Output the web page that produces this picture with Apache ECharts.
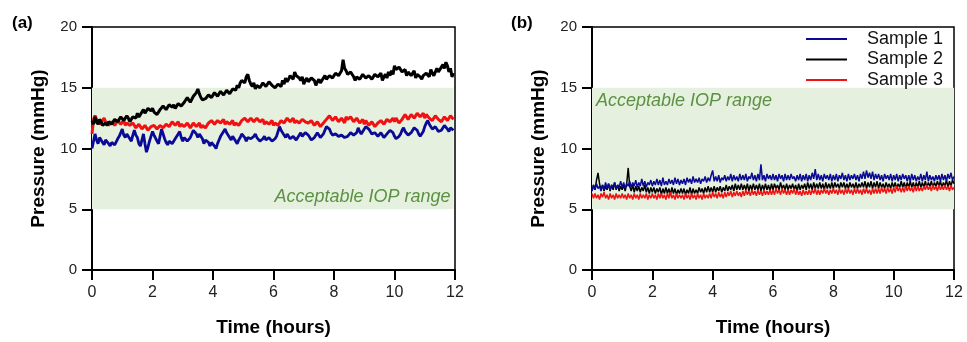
<!DOCTYPE html>
<html>
<head>
<meta charset="utf-8">
<script src="https://cdn.jsdelivr.net/npm/echarts@6/dist/echarts.min.js"></script>
<style>html,body{margin:0;padding:0;background:#fff}#c{width:967px;height:342px}</style>
</head>
<body>
<div id="c"></div>
<script>
// Sampling step of the recorded traces (hours)
const STEP_H = 0.05;
const xTicks = [0, 2, 4, 6, 8, 10, 12];
const yTicks = [0, 5, 10, 15, 20];
const seriesNames = ['Sample 1', 'Sample 2', 'Sample 3'];
const iopRange = [5, 15];

// Panel (a): 0 .. 11.95 h, one row = 0.5 h
const aSample1 = [
10.0,10.6,11.2,10.7,10.4,10.9,11.0,10.5,10.3,10.7,
10.8,10.4,10.2,10.5,10.6,10.3,10.4,10.8,11.0,11.3,
11.6,11.1,10.9,11.2,11.3,10.8,10.6,11.1,11.5,11.1,
10.9,10.4,10.2,10.7,11.2,10.4,9.7,10.1,10.6,11.0,
11.4,11.1,11.0,10.6,10.4,11.0,11.6,11.2,10.8,10.5,
10.3,10.6,10.7,10.4,10.5,10.8,10.9,11.2,11.4,10.9,
10.6,10.9,11.0,10.6,10.5,10.9,11.2,11.5,11.6,11.2,
10.9,11.2,11.3,10.8,10.4,10.7,10.8,10.5,10.2,10.5,
10.6,10.2,10.0,10.4,10.7,11.0,11.1,11.4,11.6,11.3,
11.2,10.9,10.7,11.0,10.9,10.6,10.4,10.7,10.9,11.2,
11.3,10.9,10.6,10.9,11.0,10.8,10.7,11.0,11.2,10.9,
10.9,10.6,10.5,10.8,11.0,10.7,10.6,10.9,10.9,10.6,
10.5,10.8,11.0,11.4,11.8,11.5,11.4,11.1,10.9,11.2,
11.1,10.8,10.7,11.0,11.0,10.7,10.8,11.1,11.3,11.0,
11.0,11.3,11.4,11.1,10.9,10.7,10.6,10.9,11.0,11.3,
11.2,10.9,10.9,11.2,11.5,11.8,11.9,11.6,11.3,11.1,
11.0,11.2,11.3,11.0,10.9,11.1,11.2,10.9,10.8,11.0,
11.1,11.3,11.4,11.1,11.0,11.3,11.7,11.4,11.2,11.4,
11.5,11.8,11.9,11.6,11.4,11.2,11.1,11.3,11.3,11.0,
11.0,11.3,11.2,10.9,10.9,11.2,11.3,11.5,11.6,11.3,
11.0,10.8,10.7,11.0,11.2,11.5,11.7,11.4,11.3,11.1,
11.0,11.3,11.5,11.7,11.8,11.5,11.2,11.0,11.0,11.4,
11.8,12.1,12.3,12.0,11.9,11.6,11.5,11.8,11.7,11.4,
11.3,11.5,11.6,11.9,11.9,11.6,11.4,11.7,11.8,11.5];
const aSample2 = [
12.3,12.0,12.6,12.2,12.0,12.4,12.2,11.9,11.8,12.1,
11.9,12.2,12.3,12.0,12.1,12.4,12.5,12.2,12.3,12.6,
12.6,12.3,12.4,12.7,12.5,12.2,12.3,12.6,12.7,12.5,
12.9,12.6,12.7,13.0,13.2,12.9,13.0,13.3,13.4,13.1,
13.3,13.0,13.1,12.8,12.9,13.2,13.2,13.5,13.5,13.2,
13.3,13.6,13.7,13.4,13.6,13.3,13.4,13.7,13.8,13.5,
13.5,13.8,13.9,14.2,14.1,13.8,13.9,14.3,14.4,14.6,
14.9,14.5,14.2,14.0,13.9,14.1,14.2,14.4,14.5,14.2,
14.3,14.6,14.6,14.3,14.4,14.7,14.7,14.4,14.5,14.8,
14.8,14.5,14.6,14.9,15.0,14.8,15.2,15.0,15.4,15.6,
15.7,15.4,15.9,16.1,15.6,15.3,15.1,15.4,14.9,15.2,
15.3,15.0,15.1,15.4,15.4,15.1,15.2,15.5,15.5,15.2,
15.3,15.0,14.9,15.3,15.4,15.1,15.6,15.3,15.8,15.5,
15.7,16.0,16.0,15.7,16.3,16.0,16.1,15.8,15.6,15.9,
15.3,15.6,15.8,15.5,15.5,15.8,15.9,15.6,15.2,15.5,
15.7,15.4,15.5,15.8,16.0,15.7,15.7,16.0,16.1,15.8,
15.9,16.2,16.3,16.0,16.1,16.4,17.3,16.6,16.4,16.1,
16.0,16.3,16.2,15.9,15.6,15.9,16.0,15.7,15.8,16.1,
16.1,15.8,15.7,16.0,16.0,15.7,15.8,16.1,16.2,15.9,
15.9,16.2,15.6,15.9,16.1,15.8,16.3,16.0,16.4,16.1,
16.8,16.5,16.4,16.7,16.6,16.3,16.2,16.5,16.0,16.3,
16.3,16.0,16.1,16.4,15.8,16.1,16.2,15.9,15.7,16.0,
15.9,16.2,16.2,15.9,16.5,16.2,16.0,16.3,16.6,16.3,
16.4,16.7,16.9,16.6,17.1,16.8,16.3,16.6,15.9,16.2];
const aSample3 = [
11.2,12.4,12.7,12.4,12.3,12.0,12.0,12.3,12.5,12.2,
12.2,11.9,11.9,12.2,12.2,11.9,12.0,12.3,12.3,12.0,
12.1,12.3,11.9,12.1,12.2,11.9,11.8,12.1,12.0,11.7,
11.7,12.0,11.9,11.6,11.6,11.9,11.8,11.5,11.5,11.8,
11.7,11.9,11.9,11.6,11.6,11.9,12.0,11.7,11.8,12.0,
12.1,11.8,11.9,12.2,12.2,11.9,12.0,12.2,11.8,12.0,
12.1,11.8,11.9,12.1,12.0,11.7,11.8,12.1,12.1,11.8,
11.9,12.1,11.7,11.9,12.0,11.7,11.8,12.1,12.1,12.3,
12.3,12.0,12.0,12.3,12.4,12.1,12.2,12.4,12.0,12.2,
12.3,12.0,12.1,12.3,11.9,12.1,12.2,11.9,12.0,12.3,
12.3,12.5,12.5,12.2,12.2,12.5,12.4,12.2,12.3,12.5,
12.5,12.2,12.2,12.4,12.0,12.2,12.3,12.0,12.1,12.3,
11.9,12.1,12.2,11.9,12.0,12.3,12.4,12.1,12.2,12.5,
12.5,12.2,12.3,12.5,12.1,12.3,12.4,12.1,12.2,12.4,
12.5,12.2,12.3,12.1,12.0,12.3,12.2,11.9,11.9,12.2,
12.1,11.8,11.8,12.1,12.2,12.4,12.4,12.7,12.6,12.3,
12.3,12.6,12.5,12.2,12.2,12.5,12.4,12.1,12.6,12.4,
12.3,12.6,12.5,12.2,12.2,12.5,12.4,12.1,12.2,12.4,
12.0,12.3,12.2,11.9,11.9,12.2,12.1,11.8,11.8,12.1,
12.0,12.3,12.3,12.0,12.1,12.4,12.5,12.2,12.3,12.5,
12.2,12.5,12.4,12.1,12.1,12.4,12.5,12.8,12.7,12.4,
12.5,12.8,12.8,12.5,12.6,12.9,12.9,12.6,12.7,12.9,
12.5,12.8,12.8,12.5,12.6,12.3,12.4,12.7,12.7,12.4,
12.5,12.2,12.3,12.6,12.6,12.3,12.4,12.7,12.7,12.4];

// Panel (b): 0 .. 12 h, one row = 0.5 h
const bSample1 = [
6.5,7.0,6.6,7.1,6.7,6.9,6.5,7.0,6.6,7.2,
6.7,7.1,6.6,7.0,6.8,7.2,6.7,7.0,6.8,7.3,
6.8,7.2,6.7,7.1,6.9,7.3,6.8,7.2,6.9,7.4,
6.8,7.2,6.9,7.5,6.9,7.3,6.8,7.2,7.0,7.4,
6.9,7.3,7.0,7.5,7.0,7.4,6.9,7.6,7.0,7.3,
7.0,7.5,7.1,7.4,7.0,7.6,7.1,7.5,7.0,7.4,
7.1,7.5,7.0,7.6,7.2,7.5,7.1,7.7,7.2,7.5,
7.2,7.6,7.1,7.5,7.3,7.7,7.2,7.6,7.3,7.8,
8.2,7.3,7.7,7.3,7.8,7.2,7.6,7.4,7.8,7.3,
7.7,7.4,7.9,7.3,7.8,7.4,7.7,7.3,7.9,7.4,
7.8,7.4,7.9,7.3,7.7,7.5,8.0,7.4,7.8,7.3,
7.9,7.4,8.7,7.4,7.8,7.3,7.9,7.5,7.8,7.4,
7.9,7.4,7.8,7.3,7.9,7.5,7.8,7.3,7.9,7.4,
7.8,7.4,7.9,7.5,7.7,7.3,7.8,7.4,7.9,7.3,
7.8,7.4,7.9,7.3,7.8,7.4,8.0,7.5,8.3,7.4,
7.9,7.4,7.8,7.3,7.9,7.5,7.8,7.4,7.9,7.3,
7.8,7.4,7.9,7.3,7.8,7.5,8.0,7.4,7.8,7.3,
7.9,7.4,7.8,7.5,7.9,7.4,7.8,7.3,7.9,7.5,
8.1,7.5,8.2,7.6,8.0,7.5,8.1,7.4,7.9,7.5,
7.9,7.4,7.8,7.3,7.9,7.5,7.8,7.4,7.9,7.3,
7.8,7.4,7.9,7.3,7.8,7.4,7.9,7.5,7.8,7.3,
7.8,7.3,7.9,7.4,7.8,7.3,7.7,7.4,7.9,7.3,
7.8,7.4,8.1,7.3,7.8,7.4,7.7,7.3,7.8,7.4,
7.8,7.3,7.9,7.4,7.8,7.3,7.9,7.5,8.0,7.4,
7.7];
const bSample2 = [
6.5,7.0,6.6,7.4,8.0,7.1,6.6,7.0,6.5,6.9,
6.6,7.1,6.5,7.0,6.6,7.2,6.6,7.0,6.5,6.9,
6.6,7.0,6.5,7.1,8.4,6.9,6.5,7.0,6.4,6.9,
6.5,6.9,6.4,6.8,6.5,7.0,6.4,6.8,6.3,6.8,
6.4,6.8,6.3,6.7,6.4,6.8,6.2,6.7,6.3,6.8,
6.3,6.7,6.2,6.8,6.3,6.7,6.2,6.6,6.3,6.7,
6.3,6.7,6.2,6.6,6.3,6.8,6.2,6.7,6.3,6.6,
6.3,6.8,6.4,6.7,6.3,6.8,6.4,6.9,6.4,6.8,
6.4,6.9,6.4,6.8,6.5,6.9,6.4,6.8,6.5,7.0,
6.5,6.9,6.6,7.0,6.5,7.1,6.6,7.0,6.6,7.1,
6.6,7.0,6.6,7.1,6.5,7.0,6.6,7.1,6.6,7.0,
6.6,7.1,6.5,7.0,6.6,7.1,6.6,7.0,6.5,7.1,
6.6,7.1,6.7,7.0,6.6,7.2,6.7,7.0,6.6,7.1,
6.6,7.0,6.7,7.1,6.6,7.0,6.5,7.1,6.6,7.0,
6.7,7.1,6.6,7.2,6.7,7.1,6.6,7.2,6.7,7.1,
6.7,7.2,6.7,7.1,6.6,7.2,6.7,7.1,6.7,7.2,
6.7,7.2,6.8,7.1,6.7,7.2,6.8,7.2,6.7,7.1,
6.7,7.2,6.8,7.1,6.7,7.2,6.7,7.1,6.8,7.2,
6.8,7.3,6.7,7.2,6.8,7.3,6.7,7.2,6.8,7.3,
6.7,7.2,6.8,7.1,6.7,7.2,6.8,7.1,6.7,7.2,
6.8,7.2,6.7,7.1,6.8,7.3,6.8,7.2,6.7,7.2,
6.8,7.3,6.8,7.2,6.7,7.2,6.8,7.3,6.8,7.2,
6.8,7.3,6.8,7.2,6.9,7.3,6.8,7.2,6.9,7.3,
6.9,7.3,6.8,7.2,6.9,7.4,6.8,7.3,6.9,7.4,
7.1];
const bSample3 = [
6.3,5.9,6.3,5.9,6.2,5.8,6.3,6.0,6.4,5.9,
6.2,5.8,6.3,5.9,6.2,5.8,6.3,5.9,6.2,5.9,
6.3,5.9,6.2,5.8,6.3,5.9,6.2,5.8,6.3,5.9,
6.2,5.8,6.3,5.9,6.2,5.9,6.3,5.8,6.2,5.9,
6.3,5.9,6.2,5.8,6.3,5.9,6.3,5.9,6.2,5.8,
6.3,5.9,6.4,5.9,6.2,5.8,6.3,5.9,6.2,5.9,
6.2,5.8,6.3,5.9,6.2,5.8,6.3,5.9,6.2,5.8,
6.3,5.9,6.2,5.8,6.3,5.9,6.2,5.9,6.3,5.9,
6.4,6.0,6.3,5.9,6.4,6.0,6.3,5.9,6.4,6.0,
6.4,6.1,6.5,6.0,6.4,6.1,6.5,6.1,6.4,6.0,
6.5,6.1,6.6,6.2,6.5,6.1,6.6,6.2,6.5,6.1,
6.6,6.2,6.5,6.1,6.6,6.2,6.5,6.2,6.6,6.2,
6.6,6.2,6.7,6.3,6.6,6.2,6.7,6.3,6.6,6.2,
6.6,6.2,6.6,6.3,6.7,6.2,6.6,6.2,6.5,6.1,
6.6,6.2,6.5,6.2,6.6,6.2,6.6,6.3,6.7,6.2,
6.6,6.2,6.6,6.3,6.7,6.3,6.6,6.2,6.6,6.3,
6.7,6.3,6.6,6.2,6.7,6.3,6.6,6.2,6.7,6.3,
6.7,6.3,6.6,6.2,6.7,6.3,6.7,6.3,6.6,6.2,
6.7,6.3,6.7,6.3,6.6,6.2,6.7,6.3,6.7,6.3,
6.7,6.3,6.8,6.4,6.7,6.3,6.8,6.4,6.7,6.3,
6.8,6.4,6.9,6.5,6.8,6.4,6.8,6.4,6.9,6.5,
6.9,6.5,6.8,6.4,6.9,6.5,6.9,6.5,6.8,6.5,
6.9,6.6,7.0,6.6,6.9,6.5,7.0,6.6,6.9,6.5,
7.0,6.6,6.9,6.6,7.0,6.6,6.9,6.5,7.0,6.6,
6.8];

const COLORS = {'Sample 1': '#0a0a96', 'Sample 2': '#000000', 'Sample 3': '#f01212'};
const FONT = '"Liberation Sans", Arial, sans-serif';

function pts(arr) { return arr.map((v, i) => [+(i * STEP_H).toFixed(2), v]); }

function lineSeries(name, arr, gi, w) {
  return {
    type: 'line', name: name, xAxisIndex: gi, yAxisIndex: gi,
    data: pts(arr), symbol: 'none', showSymbol: false,
    lineStyle: {color: COLORS[name], width: w}, itemStyle: {color: COLORS[name]},
    silent: true, z: 3
  };
}

function bandSeries(gi, xEnd, labelPos, labelDist) {
  return {
    type: 'line', xAxisIndex: gi, yAxisIndex: gi, data: [], silent: true, z: 1,
    markArea: {
      silent: true,
      itemStyle: {color: '#e5f1de'},
      label: {
        show: true, position: labelPos, distance: labelDist,
        color: '#5b9142', fontSize: 18, fontStyle: 'italic', fontFamily: FONT
      },
      data: [[{name: 'Acceptable IOP range', xAxis: 0, yAxis: iopRange[0]}, {xAxis: xEnd, yAxis: iopRange[1]}]]
    }
  };
}

function xAx(gi) {
  return {
    type: 'value', gridIndex: gi, min: xTicks[0], max: xTicks[xTicks.length - 1], interval: 2,
    name: 'Time (hours)', nameLocation: 'middle', nameGap: 48,
    nameTextStyle: {fontSize: 19, fontWeight: 'bold', color: '#000', fontFamily: FONT},
    axisLine: {show: true, lineStyle: {color: '#000', width: 2}},
    axisTick: {show: true, length: 10, lineStyle: {color: '#000', width: 2}},
    axisLabel: {fontSize: 16, color: '#222', margin: 15, fontFamily: FONT},
    splitLine: {show: false}
  };
}
function yAx(gi) {
  return {
    type: 'value', gridIndex: gi, min: yTicks[0], max: yTicks[yTicks.length - 1], interval: 5,
    name: 'Pressure (mmHg)', nameLocation: 'middle', nameGap: 44,
    nameTextStyle: {fontSize: 19, fontWeight: 'bold', color: '#000', fontFamily: FONT},
    axisLine: {show: true, lineStyle: {color: '#000', width: 2}},
    axisTick: {show: true, length: 10, lineStyle: {color: '#000', width: 2}},
    axisLabel: {fontSize: 15, color: '#222', margin: 15, fontFamily: FONT},
    splitLine: {show: false}
  };
}

const chart = echarts.init(document.getElementById('c'), null, {renderer: 'canvas'});
chart.setOption({
  animation: false,
  backgroundColor: '#fff',
  title: [
    {text: '(a)', left: 7, top: 10, textStyle: {fontSize: 17, fontWeight: 'bold', color: '#000', fontFamily: FONT}},
    {text: '(b)', left: 506, top: 10, textStyle: {fontSize: 17, fontWeight: 'bold', color: '#000', fontFamily: FONT}}
  ],
  legend: {
    data: seriesNames, orient: 'vertical', left: 801, top: 25,
    icon: 'rect', itemWidth: 41, itemHeight: 2, itemGap: 2.5,
    textStyle: {fontSize: 18, color: '#111', fontFamily: FONT, padding: [0, 0, 0, 15]},
    selectedMode: false
  },
  grid: [
    {left: 92, right: 512, top: 27, bottom: 72, show: true, borderColor: '#000', borderWidth: 1.5, backgroundColor: 'transparent'},
    {left: 592, right: 13, top: 27, bottom: 72, show: true, borderColor: '#000', borderWidth: 1.5, backgroundColor: 'transparent'}
  ],
  xAxis: [xAx(0), xAx(1)],
  yAxis: [yAx(0), yAx(1)],
  series: [
    bandSeries(0, (aSample2.length - 1) * STEP_H, 'insideBottomRight', 3),
    lineSeries('Sample 1', aSample1, 0, 2.8),
    lineSeries('Sample 3', aSample3, 0, 3),
    lineSeries('Sample 2', aSample2, 0, 3),
    bandSeries(1, (bSample1.length - 1) * STEP_H, 'insideTopLeft', 4),
    lineSeries('Sample 2', bSample2, 1, 1.5),
    lineSeries('Sample 1', bSample1, 1, 1.5),
    lineSeries('Sample 3', bSample3, 1, 1.5)
  ]
});
</script>
</body>
</html>
